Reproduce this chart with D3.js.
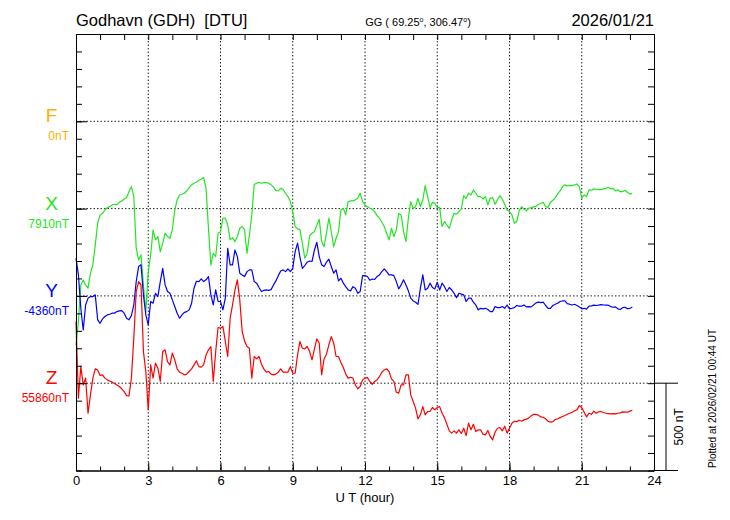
<!DOCTYPE html>
<html>
<head>
<meta charset="utf-8">
<script src="https://cdn.jsdelivr.net/npm/d3@7"></script>
<style>
    body { margin: 0; background: #fff; }
    text { font-family: "Liberation Sans", Arial, Helvetica, sans-serif; }
</style>
</head>
<body>
<svg id="chart" width="730" height="520"></svg>
<script>
// DATA: one sample every 0.1 hour from 00:00 UT (nT)
const stepHours = 0.1;

const xValues = [
    7129, 7263, 7473, 7501, 7473, 7454, 7540, 7587, 7702, 7826,
    7874, 7883, 7902, 7916, 7921, 7931, 7935, 7931, 7946, 7954,
    7965, 7973, 8007, 8036, 7979, 7683, 7616, 7645, 7473, 7320,
    7549, 7645, 7788, 7731, 7750, 7664, 7711, 7769, 7750, 7740,
    7788, 7902, 7960, 7988, 7992, 7998, 8011, 8030, 8046, 8055,
    8061, 8072, 8078, 8088, 8026, 7797, 7587, 7654, 7635, 7769,
    7778, 7855, 7855, 7816, 7731, 7744, 7721, 7750, 7797, 7807,
    7788, 7654, 7759, 7874, 8049, 8055, 8061, 8055, 8059, 8059,
    8055, 8046, 8034, 8013, 8011, 8026, 8019, 7998, 7979, 7950,
    7893, 7807, 7794, 7788, 7711, 7626, 7654, 7755, 7769, 7778,
    7816, 7849, 7721, 7692, 7769, 7855, 7778, 7692, 7740, 7778,
    7902, 7912, 7874, 7950, 7954, 7954, 7960, 7969, 7998, 7950,
    7931, 7920, 7912, 7906, 7893, 7870, 7855, 7832, 7807, 7769,
    7731, 7797, 7750, 7788, 7883, 7874, 7778, 7721, 7855, 7950,
    7912, 7921, 7969, 7921, 7960, 8042, 7979, 7916, 7946, 7941,
    7916, 7916, 7807, 7836, 7816, 7797, 7845, 7883, 7878, 7893,
    7908, 7984, 7969, 7998, 7988, 8017, 7998, 7979, 7979, 7965,
    7979, 7931, 7969, 7973, 7935, 7960, 7984, 7965, 7935, 7902,
    7893, 7874, 7826, 7836, 7897, 7921, 7908, 7897, 7912, 7916,
    7920, 7923, 7935, 7939, 7946, 7921, 7916, 7946, 7958, 7973,
    7994, 8011, 8036, 8046, 8040, 8042, 8042, 8046, 8051, 8036,
    7969, 7988, 7979, 8017, 8015, 8023, 8021, 8019, 8019, 8023,
    8026, 8032, 8023, 8026, 8011, 8017, 8007, 8007, 8015, 8002,
    7994, 7996
];

const yValues = [
    -4144, -4240, -4431, -4555, -4412, -4373, -4364, -4364, -4354, -4497,
    -4517, -4492, -4478, -4469, -4465, -4459, -4459, -4450, -4446, -4444,
    -4459, -4488, -4497, -4473, -4412, -4278, -4192, -4182, -4354, -4469,
    -4526, -4392, -4402, -4345, -4364, -4278, -4202, -4297, -4335, -4345,
    -4383, -4421, -4459, -4488, -4469, -4454, -4450, -4440, -4402, -4316,
    -4276, -4278, -4263, -4278, -4268, -4249, -4354, -4412, -4326, -4392,
    -4392, -4440, -4373, -4087, -4182, -4182, -4097, -4135, -4230, -4240,
    -4249, -4221, -4211, -4211, -4278, -4287, -4312, -4335, -4328, -4326,
    -4328, -4324, -4297, -4274, -4244, -4217, -4211, -4221, -4205, -4221,
    -4202, -4106, -4058, -4140, -4202, -4186, -4167, -4160, -4163, -4097,
    -4053, -4135, -4182, -4192, -4167, -4150, -4192, -4230, -4211, -4274,
    -4259, -4287, -4307, -4326, -4331, -4307, -4316, -4345, -4335, -4244,
    -4244, -4249, -4270, -4263, -4266, -4249, -4240, -4221, -4205, -4221,
    -4240, -4240, -4244, -4278, -4320, -4297, -4268, -4297, -4331, -4373,
    -4389, -4396, -4408, -4316, -4240, -4326, -4316, -4287, -4312, -4320,
    -4282, -4326, -4287, -4307, -4335, -4312, -4326, -4345, -4370, -4345,
    -4350, -4354, -4392, -4373, -4373, -4396, -4412, -4440, -4431, -4434,
    -4431, -4438, -4450, -4450, -4421, -4427, -4427, -4421, -4431, -4412,
    -4434, -4431, -4427, -4415, -4419, -4419, -4412, -4423, -4421, -4423,
    -4412, -4400, -4396, -4398, -4396, -4415, -4431, -4431, -4415, -4408,
    -4402, -4392, -4389, -4389, -4404, -4408, -4412, -4408, -4415, -4423,
    -4434, -4431, -4436, -4419, -4417, -4413, -4415, -4413, -4410, -4412,
    -4413, -4413, -4421, -4425, -4423, -4434, -4438, -4427, -4425, -4433,
    -4431, -4425
];

const zValues = [
    56213, 55774, 55955, 55850, 55889, 55688, 55793, 55889, 55942, 55936,
    55904, 55908, 55889, 55879, 55873, 55866, 55858, 55850, 55841, 55828,
    55812, 55789, 55787, 55889, 56118, 56385, 56442, 56423, 56041, 55927,
    55707, 55965, 55889, 55975, 55946, 55870, 56041, 56051, 55984, 55965,
    56032, 55994, 55942, 55923, 55917, 55908, 55912, 55927, 55942, 55965,
    55988, 55955, 55952, 55965, 56022, 56051, 56070, 55870, 56041, 56179,
    56175, 56185, 56099, 56013, 56232, 56309, 56395, 56452, 56337, 56156,
    56102, 56070, 56060, 55889, 56013, 55999, 56013, 55969, 55942, 55923,
    55927, 55912, 55908, 55912, 55923, 55942, 55923, 55923, 55923, 55955,
    55917, 55917, 56022, 56099, 56060, 56057, 56070, 56041, 55994, 56057,
    56114, 56089, 55908, 55999, 56026, 56080, 56127, 56089, 56013, 56013,
    55978, 55950, 55912, 55889, 55894, 55889, 55850, 55828, 55841, 55879,
    55889, 55892, 55870, 55854, 55870, 55879, 55898, 55923, 55936, 55942,
    55927, 55885, 55870, 55808, 55803, 55850, 55850, 55908, 55908, 55793,
    55755, 55717, 55656, 55679, 55726, 55679, 55698, 55698, 55721, 55707,
    55721, 55726, 55688, 55663, 55625, 55587, 55574, 55587, 55574, 55593,
    55572, 55602, 55560, 55631, 55593, 55625, 55583, 55593, 55593, 55568,
    55564, 55589, 55555, 55535, 55579, 55602, 55606, 55587, 55614, 55574,
    55602, 55631, 55642, 55640, 55648, 55642, 55650, 55654, 55660, 55673,
    55682, 55681, 55677, 55667, 55665, 55656, 55642, 55637, 55640, 55652,
    55656, 55663, 55669, 55675, 55682, 55688, 55694, 55702, 55707, 55732,
    55721, 55694, 55667, 55688, 55682, 55700, 55688, 55696, 55698, 55692,
    55688, 55686, 55684, 55686, 55684, 55688, 55690, 55696, 55694, 55694,
    55700, 55705
];

// components, baselines (value at each dotted line) and colours
const compNames = ["F", "X", "Y", "Z"];
const compBase = [0, 7910, -4360, 55860];
const compSeries = [[], xValues, yValues, zValues];
const compColors = ["#ffb000", "#22e622", "#0000ff", "#ff0000"];

const hourTicks = d3.range(0, 25, 3);
const scaleBarNT = 500;

// SETUP
const svg = d3.select("#chart");
const plotLeft = 76, plotRight = 654, plotTop = 34, plotBottom = 470.5;

// each component gets its own 500 nT slot, F on top
const slotNT = 500;
const slotOf = i => (compNames.length - i) * slotNT;

const x = d3.scaleLinear().domain([0, 24]).range([plotLeft, plotRight]);
const y = d3.scaleLinear().domain([0, 2500]).range([plotBottom, plotTop]);

// 1: GRID
const grid = svg.append("g")
    .attr("stroke", "#222")
    .attr("stroke-width", 1)
    .attr("stroke-dasharray", "1.5,2");

grid.selectAll(".hgrid")
    .data(compNames)
    .enter()
    .append("line")
    .attr("x1", plotLeft).attr("x2", plotRight)
    .attr("y1", (d, i) => y(slotOf(i)))
    .attr("y2", (d, i) => y(slotOf(i)));

grid.selectAll(".vgrid")
    .data(hourTicks.slice(1, -1))
    .enter()
    .append("line")
    .attr("x1", d => x(d)).attr("x2", d => x(d))
    .attr("y1", plotTop).attr("y2", plotBottom);

// 2: TRACES
compNames.forEach((name, i) => {
    if (!compSeries[i].length) return;
    const line = d3.line()
        .x((d, k) => x(k * stepHours))
        .y(d => y(slotOf(i) + d - compBase[i]));
    svg.append("path")
        .datum(compSeries[i])
        .attr("d", line)
        .attr("fill", "none")
        .attr("stroke", compColors[i])
        .attr("stroke-width", 1.2)
        .attr("stroke-linejoin", "round");
});

// 3: AXES (all ticks point inwards)
const nTTicks = d3.range(0, 2501, 100);

function styleAxis(g) {
    g.selectAll("path, line").attr("stroke", "#000");
    g.selectAll("text").attr("fill", "#000");
}

svg.append("g")
    .attr("transform", `translate(0,${plotBottom})`)
    .call(d3.axisBottom(x).tickValues(d3.range(0, 25)).tickSize(-4).tickSizeOuter(0).tickFormat(""))
    .call(styleAxis);

svg.append("g")
    .attr("transform", `translate(0,${plotBottom})`)
    .call(d3.axisBottom(x).tickValues(hourTicks).tickSize(-8).tickSizeOuter(0).tickPadding(5))
    .call(styleAxis)
    .call(g => g.selectAll("text").attr("font-size", 13).attr("font-family", "Liberation Sans, Arial, sans-serif"));

svg.append("g")
    .attr("transform", `translate(0,${plotTop})`)
    .call(d3.axisTop(x).tickValues(d3.range(0, 25)).tickSize(-6).tickSizeOuter(0).tickFormat(""))
    .call(styleAxis);

svg.append("g")
    .attr("transform", `translate(${plotLeft},0)`)
    .call(d3.axisLeft(y).tickValues(nTTicks).tickSize(-6).tickSizeOuter(0).tickFormat(""))
    .call(styleAxis);

svg.append("g")
    .attr("transform", `translate(${plotRight},0)`)
    .call(d3.axisRight(y).tickValues(nTTicks).tickSize(-6).tickSizeOuter(0).tickFormat(""))
    .call(styleAxis);

// longer ticks where the baselines sit
svg.append("g")
    .attr("transform", `translate(${plotLeft},0)`)
    .call(d3.axisLeft(y).tickValues(compNames.map((d, i) => slotOf(i))).tickSize(-11).tickSizeOuter(0).tickFormat(""))
    .call(styleAxis);

// 4: COMPONENT LABELS
svg.selectAll(".comp")
    .data(compNames)
    .enter()
    .append("text")
    .attr("x", 51.5)
    .attr("y", (d, i) => y(slotOf(i)) + 1)
    .attr("text-anchor", "middle")
    .attr("font-size", 19)
    .attr("fill", (d, i) => compColors[i])
    .text(d => d);

svg.selectAll(".base")
    .data(compBase)
    .enter()
    .append("text")
    .attr("x", 69)
    .attr("y", (d, i) => y(slotOf(i)) + 19)
    .attr("text-anchor", "end")
    .attr("font-size", 12)
    .attr("fill", (d, i) => compColors[i])
    .text(d => d + "nT");

// 5: TITLES
svg.append("text")
    .attr("x", plotLeft)
    .attr("y", 26)
    .attr("font-size", 16.5)
    .style("white-space", "pre")
    .text("Godhavn (GDH)  [DTU]");

const coord = svg.append("text")
    .attr("x", 418)
    .attr("y", 26)
    .attr("text-anchor", "middle")
    .attr("font-size", 11);
coord.append("tspan").text("GG ( 69.25");
coord.append("tspan").attr("font-size", 7).attr("dy", -4).text("o");
coord.append("tspan").attr("dy", 4).text(", 306.47");
coord.append("tspan").attr("font-size", 7).attr("dy", -4).text("o");
coord.append("tspan").attr("dy", 4).text(")");

svg.append("text")
    .attr("x", plotRight)
    .attr("y", 26)
    .attr("text-anchor", "end")
    .attr("font-size", 16.5)
    .text("2026/01/21");

svg.append("text")
    .attr("x", (plotLeft + plotRight) / 2)
    .attr("y", 502)
    .attr("text-anchor", "middle")
    .attr("font-size", 13)
    .text("U T (hour)");

// 6: SCALE BAR (500 nT)
const bar = svg.append("g").attr("stroke", "#000").attr("stroke-width", 1);
bar.append("line")
    .attr("x1", 666).attr("x2", 666)
    .attr("y1", y(scaleBarNT)).attr("y2", y(0));
bar.selectAll(".cap")
    .data([0, scaleBarNT])
    .enter()
    .append("line")
    .attr("x1", plotRight).attr("x2", 678)
    .attr("y1", d => y(d)).attr("y2", d => y(d));

svg.append("text")
    .attr("transform", `translate(683,${y(scaleBarNT / 2)}) rotate(-90)`)
    .attr("text-anchor", "middle")
    .attr("font-size", 12)
    .text(scaleBarNT + " nT");

svg.append("text")
    .attr("transform", "translate(716,468) rotate(-90)")
    .attr("font-size", 10)
    .text("Plotted at 2026/02/21 00:44 UT");
</script>
</body>
</html>
